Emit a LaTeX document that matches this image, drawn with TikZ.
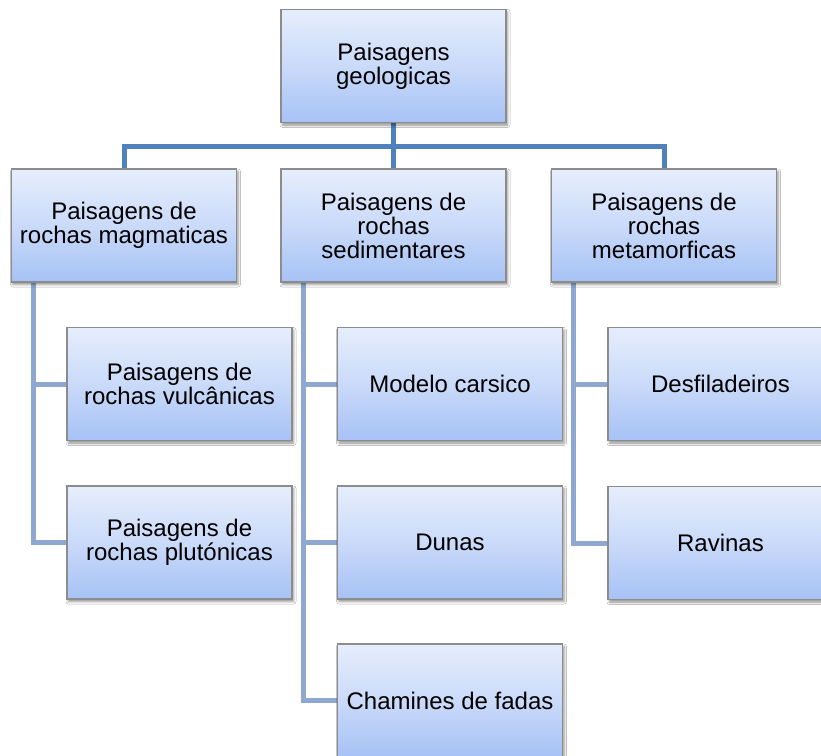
\documentclass[tikz,border=0pt]{standalone}
\usepackage{fontspec}
\setmainfont{Liberation Sans}
\usetikzlibrary{shadows.blur,backgrounds}
\definecolor{boxtop}{HTML}{E6EEFC}
\definecolor{boxmid}{HTML}{CADAF9}
\definecolor{boxbot}{HTML}{A6C2F5}
\definecolor{boxline}{HTML}{8C8C8C}
\definecolor{mainblue}{HTML}{4F81BD}
\definecolor{subblue}{HTML}{8EA8D2}
\tikzset{
  box/.style={rectangle, draw=boxline, line width=1.2bp,
    top color=boxtop, bottom color=boxbot, middle color=boxmid,
    minimum width=225bp, minimum height=113bp, inner sep=0pt,
    align=center, font=\fontsize{24bp}{24bp}\selectfont,
    blur shadow={shadow xshift=1.5bp, shadow yshift=-2.5bp, shadow blur radius=2.5bp, shadow opacity=45}},
  mainconn/.style={draw=mainblue, line width=5bp},
  subconn/.style={draw=subblue, line width=5bp}
}
\begin{document}
\begin{tikzpicture}[x=1bp,y=-1bp]
\useasboundingbox (0,0) rectangle (821,756);
\clip (0,0) rectangle (821,756);
\node[box] (top) at (393.5,66) {Paisagens\\geologicas};
\node[box] (A) at (124,225.5) {Paisagens de\\rochas magmaticas};
\node[box] (B) at (393.5,225.5) {Paisagens de\\rochas\\sedimentares};
\node[box] (C) at (664,225.5) {Paisagens de\\rochas\\metamorficas};
\node[box] (A1) at (179.5,384) {Paisagens de\\rochas vulcânicas};
\node[box] (A2) at (179.5,542.5) {Paisagens de\\rochas plutónicas};
\node[box] (B1) at (450,384) {Modelo carsico};
\node[box] (B2) at (450,542.5) {Dunas};
\node[box] (B3) at (450,700.5) {Chamines de fadas};
\node[box] (C1) at (720.5,384) {Desfiladeiros};
\node[box] (C2) at (720.5,543) {Ravinas};
\begin{scope}[on background layer]
\fill[white] (0,0) rectangle (821,756);
\coordinate (bus) at (393.5,146.5);
\draw[mainconn] (top.south) -- (B.north);
\draw[mainconn] (bus) -| (A.north);
\draw[mainconn] (bus) -| (C.north);
\draw[subconn] ([xshift=23bp]A.south west) |- (A1.west);
\draw[subconn] ([xshift=23bp]A.south west) |- (A2.west);
\draw[subconn] ([xshift=23bp]B.south west) |- (B1.west);
\draw[subconn] ([xshift=23bp]B.south west) |- (B2.west);
\draw[subconn] ([xshift=23bp]B.south west) |- (B3.west);
\draw[subconn] ([xshift=23bp]C.south west) |- (C1.west);
\draw[subconn] ([xshift=23bp]C.south west) |- (C2.west);
\end{scope}
\end{tikzpicture}
\end{document}
